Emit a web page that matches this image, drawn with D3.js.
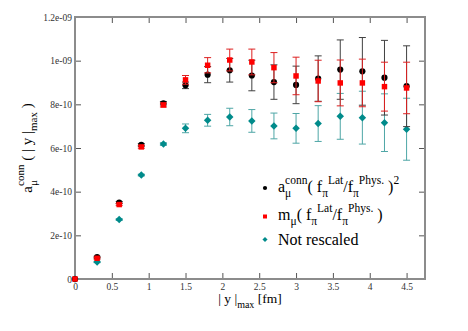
<!DOCTYPE html>
<html>
<head>
<meta charset="utf-8">
<script src="https://cdn.jsdelivr.net/npm/d3@7"></script>
<style>
  body { margin: 0; background: #fff; }
  svg { display: block; font-family: "Liberation Serif", "DejaVu Serif", serif; }
</style>
</head>
<body>
<div id="chart"></div>
<script>
// |y|max の値 [fm]
const yMax = [0, 0.3, 0.6, 0.9, 1.2, 1.5, 1.8, 2.1, 2.4, 2.7, 3.0, 3.3, 3.6, 3.9, 4.2, 4.5];

// a_mu^conn (f_pi^Lat/f_pi^Phys)^2 （単位 1e-9）
const conn = [0, 0.100, 0.350, 0.614, 0.805, 0.887, 0.936, 0.956, 0.932, 0.902, 0.889, 0.918, 0.959, 0.951, 0.922, 0.883];
const connErr = [0, 0.004, 0.005, 0.006, 0.008, 0.015, 0.037, 0.054, 0.070, 0.079, 0.086, 0.104, 0.136, 0.155, 0.171, 0.185];

// m_mu (f_pi^Lat/f_pi^Phys)
const mrs = [0, 0.095, 0.341, 0.605, 0.797, 0.912, 0.979, 1.003, 0.994, 0.968, 0.930, 0.907, 0.898, 0.898, 0.881, 0.875];
const mrsErr = [0, 0.004, 0.005, 0.006, 0.009, 0.020, 0.035, 0.050, 0.059, 0.069, 0.086, 0.095, 0.105, 0.109, 0.112, 0.118];

// Not rescaled
const raw = [0, 0.078, 0.272, 0.476, 0.618, 0.690, 0.727, 0.742, 0.724, 0.701, 0.690, 0.712, 0.745, 0.739, 0.716, 0.686];
const rawErr = [0, 0.003, 0.004, 0.004, 0.006, 0.020, 0.027, 0.040, 0.052, 0.059, 0.068, 0.082, 0.105, 0.121, 0.132, 0.142];

const xTicks = [0, 0.5, 1, 1.5, 2, 2.5, 3, 3.5, 4, 4.5];
const xTickLabels = ['0', '0.5', '1', '1.5', '2', '2.5', '3', '3.5', '4', '4.5'];
const yTicks = [0, 0.2, 0.4, 0.6, 0.8, 1.0, 1.2];
const yTickLabels = ['0', '2e-10', '4e-10', '6e-10', '8e-10', '1e-09', '1.2e-09'];

const W = 468, H = 331;
const margin = { top: 17, right: 43, bottom: 52, left: 75 };
const width = W - margin.left - margin.right;
const height = H - margin.top - margin.bottom;

const svg = d3.select('#chart').append('svg')
    .attr('width', W)
    .attr('height', H);

const g = svg.append('g')
    .attr('transform', `translate(${margin.left},${margin.top})`);

const x = d3.scaleLinear().domain([0, 4.75]).range([0, width]);
const y = d3.scaleLinear().domain([0, 1.2]).range([height, 0]);

const frameColor = '#8c8c8c';
const tickLen = 6;

// 目盛り（内向き）
const axisStyle = sel => {
    sel.select('.domain').remove();
    sel.selectAll('.tick line').attr('stroke', '#555').attr('stroke-width', 1);
    sel.selectAll('.tick text')
        .attr('fill', '#333')
        .style('font-family', '"Liberation Serif", serif')
        .style('font-size', '9.5px');
};

g.append('g')
    .attr('transform', `translate(0,${height})`)
    .call(d3.axisBottom(x).tickValues(xTicks)
        .tickFormat((d, i) => xTickLabels[i])
        .tickSizeInner(-tickLen).tickSizeOuter(0).tickPadding(4))
    .call(axisStyle);

g.append('g')
    .call(d3.axisTop(x).tickValues(xTicks).tickFormat('')
        .tickSizeInner(-tickLen).tickSizeOuter(0))
    .call(axisStyle);

g.append('g')
    .call(d3.axisLeft(y).tickValues(yTicks)
        .tickFormat((d, i) => yTickLabels[i])
        .tickSizeInner(-tickLen).tickSizeOuter(0).tickPadding(3))
    .call(axisStyle);

g.append('g')
    .attr('transform', `translate(${width},0)`)
    .call(d3.axisRight(y).tickValues(yTicks).tickFormat('')
        .tickSizeInner(-tickLen).tickSizeOuter(0))
    .call(axisStyle);

// 枠
g.append('rect')
    .attr('x', 0).attr('y', 0)
    .attr('width', width).attr('height', height)
    .attr('fill', 'none')
    .attr('stroke', frameColor)
    .attr('stroke-width', 2);

// 系列（描画順: teal → black → red）
const series = [
    { vals: raw, errs: rawErr, color: '#008b8b', errColor: '#4ea6a6', symbol: d3.symbolSquare, size: 28, rot: 45 },
    { vals: conn, errs: connErr, color: '#000', errColor: '#404040', symbol: d3.symbolCircle, size: 30, rot: 0 },
    { vals: mrs, errs: mrsErr, color: '#f00', errColor: '#dd2020', symbol: d3.symbolSquare, size: 30, rot: 0 }
];

const cap = 3.5;
series.forEach(s => {
    const pts = yMax.map((v, i) => ({ x: v, y: s.vals[i], e: s.errs[i] }));
    const eb = g.append('g').attr('stroke', s.errColor).attr('stroke-width', 1).attr('fill', 'none');
    pts.filter(d => d.e > 0).forEach(d => {
        const px = x(d.x), lo = y(d.y - d.e), hi = y(d.y + d.e);
        eb.append('line').attr('x1', px).attr('x2', px).attr('y1', lo).attr('y2', hi);
        eb.append('line').attr('x1', px - cap).attr('x2', px + cap).attr('y1', lo).attr('y2', lo);
        eb.append('line').attr('x1', px - cap).attr('x2', px + cap).attr('y1', hi).attr('y2', hi);
    });
    g.append('g').selectAll('path')
        .data(pts)
        .enter()
        .append('path')
        .attr('d', d3.symbol().type(s.symbol).size(s.size))
        .attr('transform', d => `translate(${x(d.x)},${y(d.y)}) rotate(${s.rot})`)
        .attr('fill', s.color);
});

// 上付き・下付きを含むテキスト（1つの text 要素に tspan を並べる）
function richText(parent, parts, base, small) {
    const t = parent.append('text').attr('fill', '#000');
    let cx = 0, prevStart = 0, maxEnd = 0;
    parts.forEach(p => {
        const start = p.stack ? prevStart : cx;
        const span = t.append('tspan')
            .attr('x', start)
            .attr('y', p.dy || 0)
            .style('font-size', (p.small ? small : base) + 'px')
            .text(p.t.replace(/ /g, '\u00a0'));
        const w = span.node().getComputedTextLength();
        if (!p.stack) prevStart = start;
        cx = p.stack ? Math.max(cx, start + w) : start + w;
        maxEnd = Math.max(maxEnd, cx);
    });
    return { node: t, width: maxEnd };
}

const SUP = -8, SUB = 5;

// 凡例
const legendItems = [
    {
        color: '#000', symbol: d3.symbolCircle, size: 14, rot: 0,
        parts: [
            { t: 'a' }, { t: 'μ', small: 1, dy: SUB }, { t: 'conn', small: 1, dy: SUP, stack: true },
            { t: '( f' }, { t: 'π', small: 1, dy: SUB }, { t: 'Lat', small: 1, dy: SUP },
            { t: '/f' }, { t: 'π', small: 1, dy: SUB }, { t: 'Phys.', small: 1, dy: SUP },
            { t: ' )' }, { t: '2', small: 1, dy: SUP }
        ]
    },
    {
        color: '#f00', symbol: d3.symbolSquare, size: 16, rot: 0,
        parts: [
            { t: 'm' }, { t: 'μ', small: 1, dy: SUB },
            { t: '( f' }, { t: 'π', small: 1, dy: SUB }, { t: 'Lat', small: 1, dy: SUP },
            { t: '/f' }, { t: 'π', small: 1, dy: SUB }, { t: 'Phys.', small: 1, dy: SUP },
            { t: ' )' }
        ]
    },
    {
        color: '#008b8b', symbol: d3.symbolSquare, size: 13, rot: 45,
        parts: [{ t: 'Not rescaled' }]
    }
];

const legendX = 265, markerY = [188, 216.5, 239.5], baseY = [192, 220, 245];
legendItems.forEach((item, i) => {
    svg.append('path')
        .attr('d', d3.symbol().type(item.symbol).size(item.size))
        .attr('transform', `translate(${legendX},${markerY[i]}) rotate(${item.rot})`)
        .attr('fill', item.color);
    const r = richText(svg, item.parts, 16, 11.5);
    r.node.attr('transform', `translate(${legendX + 13},${baseY[i]})`);
});

// X軸ラベル
const xl = richText(svg, [{ t: '| y |' }, { t: 'max', small: 1, dy: 5 }, { t: ' [fm]' }], 13.5, 10);
xl.node.attr('transform', `translate(${250 - xl.width / 2},302.5)`);

// Y軸ラベル
const yl = richText(svg, [
    { t: 'a' }, { t: 'μ', small: 1, dy: 5 }, { t: 'conn', small: 1, dy: -8, stack: true },
    { t: ' ( | y |' }, { t: 'max', small: 1, dy: 5 }, { t: ' )' }
], 15, 11);
yl.node.attr('transform', `translate(32,${margin.top + height / 2 + yl.width / 2}) rotate(-90)`);
</script>
</body>
</html>
